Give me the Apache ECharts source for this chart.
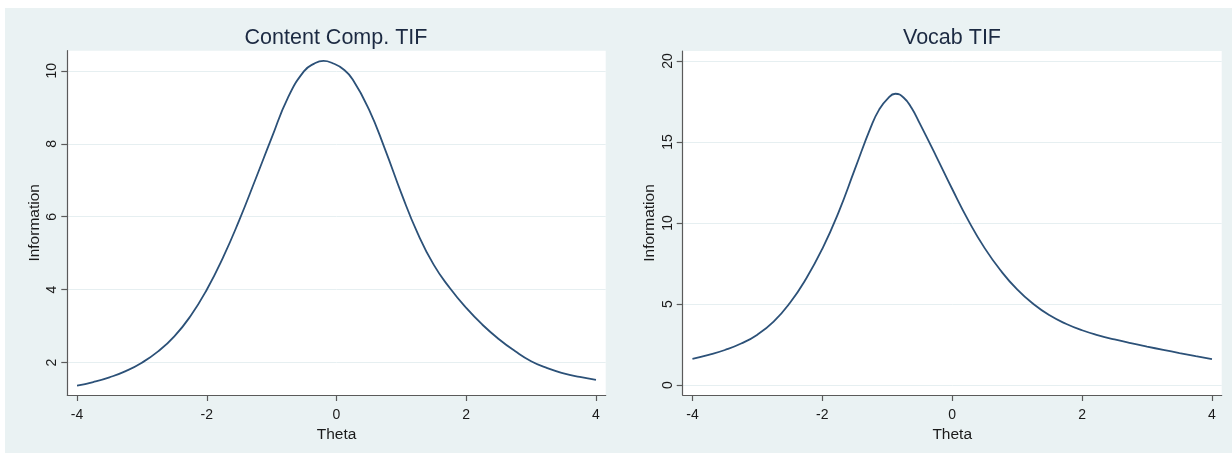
<!DOCTYPE html>
<html>
<head>
<meta charset="utf-8">
<script src="https://cdn.jsdelivr.net/npm/echarts@6/dist/echarts.min.js"></script>
<style>
  html, body { margin: 0; padding: 0; background: #ffffff; }
  #bg { position: absolute; left: 5px; top: 8px; width: 1227px; height: 445px; background: #eaf2f3; }
  #chart { position: absolute; left: 0; top: 0; width: 1232px; height: 453px; }
</style>
</head>
<body>
<div id="bg"></div>
<div id="chart"></div>
<script>
// ---- Data ----
const titles = ['Content Comp. TIF', 'Vocab TIF'];
const thetaTicks = [-4, -2, 0, 2, 4];
const contentTicks = [2, 4, 6, 8, 10];
const vocabTicks = [0, 5, 10, 15, 20];

const contentTheta = [-4, -3.75, -3.5, -3.25, -3, -2.75, -2.5, -2.25, -2, -1.75, -1.5, -1.25, -1, -0.75, -0.5, -0.35, -0.2, -0.05,
                      0.1, 0.25, 0.5, 0.75, 1, 1.25, 1.5, 1.75, 2, 2.25, 2.5, 2.75, 3, 3.25, 3.5, 3.75, 4];
const contentInfo  = [1.37, 1.47, 1.60, 1.77, 2.00, 2.31, 2.72, 3.28, 4.00, 4.88, 5.90, 7.02, 8.16, 9.26, 9.99, 10.19, 10.27, 10.20,
                      10.05, 9.76, 8.94, 7.84, 6.64, 5.55, 4.68, 4.04, 3.50, 3.04, 2.65, 2.32, 2.04, 1.85, 1.71, 1.61, 1.53];

const vocabTheta = [-4, -3.75, -3.5, -3.25, -3, -2.75, -2.5, -2.25, -2, -1.75, -1.5, -1.25, -1.125, -1, -0.875, -0.75, -0.625, -0.5,
                    -0.25, 0, 0.25, 0.5, 0.75, 1, 1.25, 1.5, 1.75, 2, 2.25, 2.5, 2.75, 3, 3.25, 3.5, 3.75, 4];
const vocabInfo  = [1.62, 1.86, 2.16, 2.56, 3.11, 3.91, 5.06, 6.56, 8.41, 10.66, 13.31, 15.95, 17.00, 17.65, 17.98, 17.75, 17.10, 16.15,
                    14.15, 12.10, 10.15, 8.45, 7.05, 5.90, 5.00, 4.30, 3.78, 3.38, 3.07, 2.81, 2.58, 2.37, 2.17, 1.97, 1.78, 1.60];

const pairs = (xs, ys) => xs.map((x, i) => [x, ys[i]]);

const FONT = '"Liberation Sans", Arial, sans-serif';
const AXIS_COLOR = '#5a5a5a';
const TEXT_COLOR = '#1a1a1a';
const LINE_COLOR = '#2c5178';
const GRID_COLOR = '#e6eff1';

function xAxisCfg(gridIndex) {
  return {
    type: 'value', gridIndex,
    min: -4.15, max: 4.15,
    name: 'Theta', nameLocation: 'middle', nameGap: 26,
    nameTextStyle: { fontFamily: FONT, fontSize: 15.5, color: TEXT_COLOR },
    axisLine: { show: true, onZero: false, lineStyle: { color: AXIS_COLOR, width: 1.2 } },
    axisTick: { show: true, length: 6, customValues: thetaTicks, lineStyle: { color: AXIS_COLOR, width: 1.2 } },
    axisLabel: { customValues: thetaTicks, margin: 13, fontFamily: FONT, fontSize: 14, color: TEXT_COLOR },
    splitLine: { show: false }
  };
}
function yAxisCfg(gridIndex, min, max, ticks) {
  return {
    type: 'value', gridIndex,
    min, max,
    name: 'Information', nameLocation: 'middle', nameGap: 25,
    nameTextStyle: { fontFamily: FONT, fontSize: 15.5, color: TEXT_COLOR },
    axisLine: { show: true, onZero: false, lineStyle: { color: AXIS_COLOR, width: 1.2 } },
    axisTick: { show: true, length: 6, customValues: ticks, lineStyle: { color: AXIS_COLOR, width: 1.2 } },
    axisLabel: { customValues: ticks, rotate: 90, margin: 8, fontFamily: FONT, fontSize: 14, color: TEXT_COLOR },
    splitLine: { show: true, lineStyle: { color: GRID_COLOR, width: 1 } }
  };
}

const chart = echarts.init(document.getElementById('chart'), null, { renderer: 'canvas' });
chart.setOption({
  backgroundColor: 'transparent',
  animation: false,
  title: [
    { text: titles[0], left: 336, top: 27, padding: 0, textAlign: 'center',
      textStyle: { fontFamily: FONT, fontSize: 21.5, fontWeight: 'normal', color: '#1c2a42' } },
    { text: titles[1], left: 952, top: 27, padding: 0, textAlign: 'center',
      textStyle: { fontFamily: FONT, fontSize: 21.5, fontWeight: 'normal', color: '#1c2a42' } }
  ],
  grid: [
    { left: 67.3, top: 50.7, width: 538.4, height: 344.3, show: true, backgroundColor: '#ffffff', borderWidth: 0 },
    { left: 682.7, top: 51, width: 539, height: 344, show: true, backgroundColor: '#ffffff', borderWidth: 0 }
  ],
  xAxis: [xAxisCfg(0), xAxisCfg(1)],
  yAxis: [yAxisCfg(0, 1.115, 10.55, contentTicks), yAxisCfg(1, -0.617, 20.62, vocabTicks)],
  series: [
    { type: 'line', xAxisIndex: 0, yAxisIndex: 0, data: pairs(contentTheta, contentInfo),
      smooth: 0.5, showSymbol: false, symbol: 'none', lineStyle: { color: LINE_COLOR, width: 1.8 } },
    { type: 'line', xAxisIndex: 1, yAxisIndex: 1, data: pairs(vocabTheta, vocabInfo),
      smooth: 0.5, showSymbol: false, symbol: 'none', lineStyle: { color: LINE_COLOR, width: 1.8 } }
  ]
});
</script>
</body>
</html>
